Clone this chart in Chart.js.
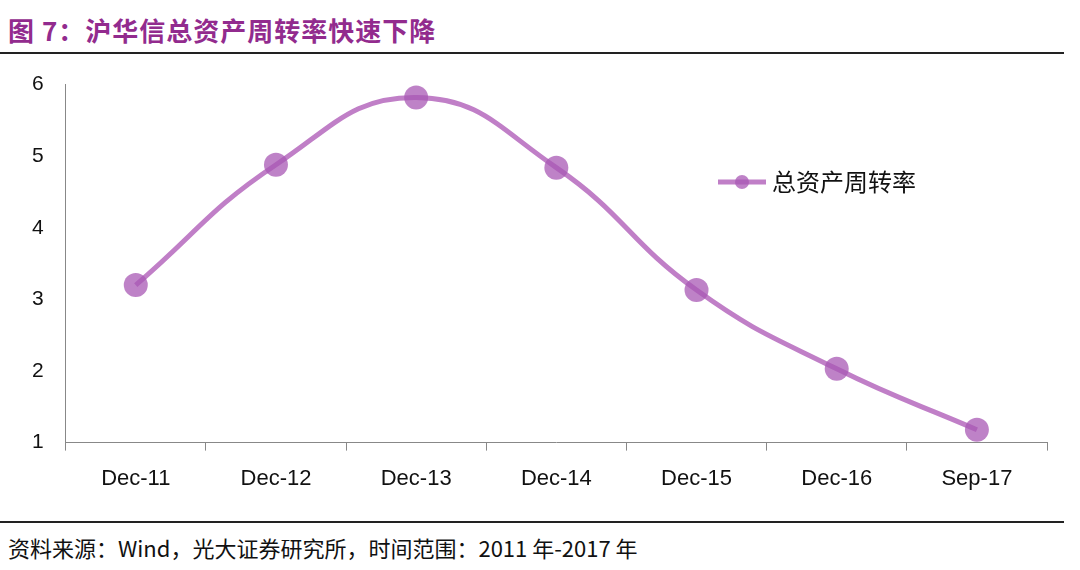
<!DOCTYPE html>
<html><head><meta charset="utf-8">
<script src="https://cdn.jsdelivr.net/npm/chart.js@4"></script>
<style>
body{margin:0;width:1080px;height:570px;background:#fff;position:relative;overflow:hidden;font-family:"Liberation Sans",Arial,sans-serif}
#title{position:absolute;left:8px;top:11px;font-size:26px;font-weight:bold;color:#922B8E;font-family:"Noto Sans CJK SC",sans-serif;letter-spacing:1px}
#l1{position:absolute;left:0;top:52px;width:1064px;height:2px;background:#222}
#l2{position:absolute;left:0;top:521px;width:1064px;height:2px;background:#222}
#src{position:absolute;left:8px;top:531px;font-size:22px;color:#111;font-family:"Noto Sans CJK SC",sans-serif}
#wrap{position:absolute;left:0;top:58px;width:1070px;height:460px}
</style></head><body>
<div id="title">图 7：沪华信总资产周转率快速下降</div>
<div id="l1"></div>
<div id="wrap"><canvas id="c"></canvas></div>
<div id="l2"></div>
<div id="src">资料来源：Wind，光大证券研究所，时间范围：2011 年-2017 年</div>
<script>
const categories=["Dec-11","Dec-12","Dec-13","Dec-14","Dec-15","Dec-16","Sep-17"];
const seriesName="总资产周转率";
const values=[3.2,4.88,5.82,4.84,3.13,2.03,1.18];
const lineColor="#C07FC7", pointColor="rgba(168,88,180,0.75)";
const legendPlugin={id:'lg',afterDraw(ch){const c=ch.ctx;const x=718,y=182-58;
c.save();c.strokeStyle=lineColor;c.lineWidth=5;c.beginPath();c.moveTo(x,y);c.lineTo(x+48,y);c.stroke();
c.fillStyle=pointColor;c.beginPath();c.arc(x+24,y,7,0,Math.PI*2);c.fill();
c.fillStyle="#111";c.font='24px "Noto Sans CJK SC"';c.textBaseline='middle';c.fillText(seriesName,x+54,y);c.restore();}};
new Chart(document.getElementById('c'),{type:'line',
data:{labels:categories,datasets:[{label:seriesName,data:values,borderColor:lineColor,borderWidth:5,tension:0.45,
pointRadius:12,pointBackgroundColor:pointColor,pointBorderWidth:0}]},
options:{responsive:true,maintainAspectRatio:false,animation:false,
layout:{padding:{top:10,right:23,left:18,bottom:11}},
plugins:{legend:{display:false},tooltip:{enabled:false}},
scales:{x:{offset:true,grid:{display:true,drawOnChartArea:false,offset:true,color:'#888',tickLength:8},border:{color:'#888'},
ticks:{color:'#111',font:{size:22,family:'"Liberation Sans"'},padding:15}},
y:{min:1,max:6,ticks:{stepSize:1,color:'#111',font:{size:21,family:'"Liberation Sans"'},padding:14},grid:{display:false},border:{color:'#888'}}}},
plugins:[legendPlugin]});
</script></body></html>
